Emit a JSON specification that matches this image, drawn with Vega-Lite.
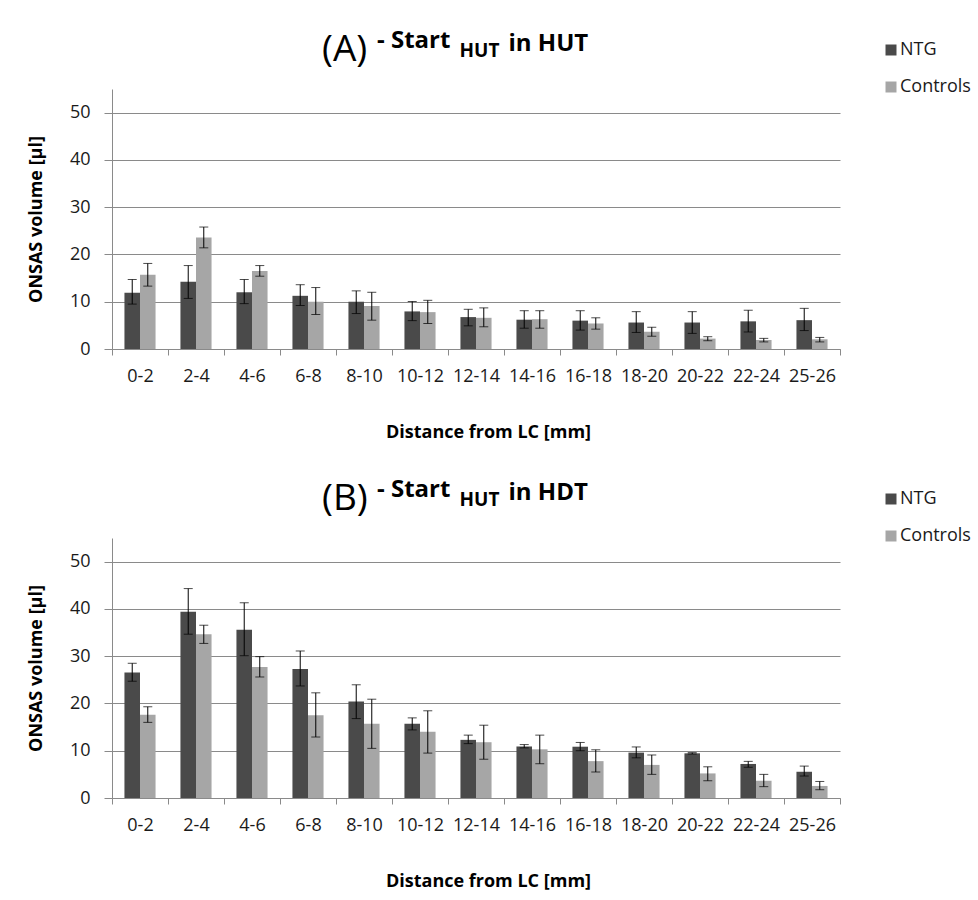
{
  "$schema": "https://vega.github.io/schema/vega-lite/v6.json",
  "background": "#ffffff",
  "padding": {"left": 27, "top": 29, "right": 5, "bottom": 5},
  "config": {
    "view": {"stroke": null},
    "font": "Open Sans",
    "axis": {"labelFont": "Open Sans", "titleFont": "Open Sans"},
    "legend": {"labelFont": "Open Sans", "titleFont": "Open Sans"}
  },
  "datasets": {
    "d": [
      {"p": "A", "cat": "0-2", "g": "NTG", "v": 11.9, "lo": 9.5, "hi": 14.7},
      {"p": "A", "cat": "0-2", "g": "Controls", "v": 15.7, "lo": 13.3, "hi": 18.1},
      {"p": "A", "cat": "2-4", "g": "NTG", "v": 14.2, "lo": 10.7, "hi": 17.65},
      {"p": "A", "cat": "2-4", "g": "Controls", "v": 23.6, "lo": 21.4, "hi": 25.8},
      {"p": "A", "cat": "4-6", "g": "NTG", "v": 12.0, "lo": 9.6, "hi": 14.7},
      {"p": "A", "cat": "4-6", "g": "Controls", "v": 16.5, "lo": 15.4, "hi": 17.65},
      {"p": "A", "cat": "6-8", "g": "NTG", "v": 11.25, "lo": 9.2, "hi": 13.6},
      {"p": "A", "cat": "6-8", "g": "Controls", "v": 10.0, "lo": 7.3, "hi": 13.0},
      {"p": "A", "cat": "8-10", "g": "NTG", "v": 10.0, "lo": 7.5, "hi": 12.3},
      {"p": "A", "cat": "8-10", "g": "Controls", "v": 9.1, "lo": 6.1, "hi": 12.0},
      {"p": "A", "cat": "10-12", "g": "NTG", "v": 7.95, "lo": 6.0, "hi": 10.05},
      {"p": "A", "cat": "10-12", "g": "Controls", "v": 7.8, "lo": 5.4, "hi": 10.3},
      {"p": "A", "cat": "12-14", "g": "NTG", "v": 6.75, "lo": 4.9, "hi": 8.4},
      {"p": "A", "cat": "12-14", "g": "Controls", "v": 6.6, "lo": 4.7, "hi": 8.7},
      {"p": "A", "cat": "14-16", "g": "NTG", "v": 6.2, "lo": 4.4, "hi": 8.1},
      {"p": "A", "cat": "14-16", "g": "Controls", "v": 6.3, "lo": 4.4, "hi": 8.1},
      {"p": "A", "cat": "16-18", "g": "NTG", "v": 6.0, "lo": 4.0, "hi": 8.1},
      {"p": "A", "cat": "16-18", "g": "Controls", "v": 5.4, "lo": 4.2, "hi": 6.6},
      {"p": "A", "cat": "18-20", "g": "NTG", "v": 5.6, "lo": 3.5, "hi": 7.9},
      {"p": "A", "cat": "18-20", "g": "Controls", "v": 3.65, "lo": 2.7, "hi": 4.6},
      {"p": "A", "cat": "20-22", "g": "NTG", "v": 5.6, "lo": 3.3, "hi": 7.9},
      {"p": "A", "cat": "20-22", "g": "Controls", "v": 2.2, "lo": 1.75, "hi": 2.6},
      {"p": "A", "cat": "22-24", "g": "NTG", "v": 5.85, "lo": 3.6, "hi": 8.2},
      {"p": "A", "cat": "22-24", "g": "Controls", "v": 1.9, "lo": 1.5, "hi": 2.25},
      {"p": "A", "cat": "25-26", "g": "NTG", "v": 6.1, "lo": 3.9, "hi": 8.6},
      {"p": "A", "cat": "25-26", "g": "Controls", "v": 2.05, "lo": 1.5, "hi": 2.45},
      {"p": "B", "cat": "0-2", "g": "NTG", "v": 26.55, "lo": 24.7, "hi": 28.5},
      {"p": "B", "cat": "0-2", "g": "Controls", "v": 17.6, "lo": 16.0, "hi": 19.3},
      {"p": "B", "cat": "2-4", "g": "NTG", "v": 39.4, "lo": 34.65, "hi": 44.3},
      {"p": "B", "cat": "2-4", "g": "Controls", "v": 34.65, "lo": 32.7, "hi": 36.55},
      {"p": "B", "cat": "4-6", "g": "NTG", "v": 35.6, "lo": 30.1, "hi": 41.3},
      {"p": "B", "cat": "4-6", "g": "Controls", "v": 27.7, "lo": 25.6, "hi": 29.9},
      {"p": "B", "cat": "6-8", "g": "NTG", "v": 27.3, "lo": 23.7, "hi": 31.1},
      {"p": "B", "cat": "6-8", "g": "Controls", "v": 17.5, "lo": 12.9, "hi": 22.25},
      {"p": "B", "cat": "8-10", "g": "NTG", "v": 20.4, "lo": 16.8, "hi": 23.95},
      {"p": "B", "cat": "8-10", "g": "Controls", "v": 15.7, "lo": 10.5, "hi": 20.9},
      {"p": "B", "cat": "10-12", "g": "NTG", "v": 15.7, "lo": 14.4, "hi": 16.95},
      {"p": "B", "cat": "10-12", "g": "Controls", "v": 14.0, "lo": 9.5, "hi": 18.45},
      {"p": "B", "cat": "12-14", "g": "NTG", "v": 12.3, "lo": 11.5, "hi": 13.3},
      {"p": "B", "cat": "12-14", "g": "Controls", "v": 11.8, "lo": 8.2, "hi": 15.4},
      {"p": "B", "cat": "14-16", "g": "NTG", "v": 10.9, "lo": 10.6, "hi": 11.3},
      {"p": "B", "cat": "14-16", "g": "Controls", "v": 10.3, "lo": 7.25, "hi": 13.3},
      {"p": "B", "cat": "16-18", "g": "NTG", "v": 10.85, "lo": 10.0, "hi": 11.75},
      {"p": "B", "cat": "16-18", "g": "Controls", "v": 7.8, "lo": 5.5, "hi": 10.2},
      {"p": "B", "cat": "18-20", "g": "NTG", "v": 9.6, "lo": 8.5, "hi": 10.8},
      {"p": "B", "cat": "18-20", "g": "Controls", "v": 7.0, "lo": 5.0, "hi": 9.1},
      {"p": "B", "cat": "20-22", "g": "NTG", "v": 9.45, "lo": 9.3, "hi": 9.6},
      {"p": "B", "cat": "20-22", "g": "Controls", "v": 5.2, "lo": 3.65, "hi": 6.6},
      {"p": "B", "cat": "22-24", "g": "NTG", "v": 7.2, "lo": 6.5, "hi": 7.75},
      {"p": "B", "cat": "22-24", "g": "Controls", "v": 3.65, "lo": 2.4, "hi": 5.0},
      {"p": "B", "cat": "25-26", "g": "NTG", "v": 5.55, "lo": 4.65, "hi": 6.75},
      {"p": "B", "cat": "25-26", "g": "Controls", "v": 2.55, "lo": 1.75, "hi": 3.5}
    ]
  },
  "spacing": 37,
  "resolve": {"scale": {"color": "independent"}, "legend": {"color": "independent"}},
  "vconcat": [
    {
      "data": {"name": "d"},
      "transform": [{"filter": "datum.p === 'A'"}],
      "width": 728,
      "height": 260,
      "title": {
        "text": "- Start",
        "anchor": "start", "frame": "group", "dx": 265,
        "font": "Open Sans", "fontSize": 24, "fontWeight": "bold", "color": "#000000",
        "offset": -22
      },
      "layer": [
        {
          "mark": {"type": "bar"},
          "encoding": {
            "x": {"field": "cat", "type": "nominal", "sort": null,
              "scale": {"paddingInner": 0, "paddingOuter": 0},
              "axis": {"orient": "bottom", "tickBand": "extent", "tickSize": 6, "tickColor": "#8a8a8a", "domainColor": "#8a8a8a",
                "labelFontSize": 18, "labelPadding": 12, "labelAngle": 0, "labelColor": "#1a1a1a", "grid": false,
                "title": "Distance from LC [mm]", "titleFontSize": 18, "titleFontWeight": "bold", "titleColor": "#000000", "titlePadding": 38, "titleX": 376}},
            "xOffset": {"field": "g", "type": "nominal", "sort": ["NTG", "Controls"], "scale": {"paddingInner": 0, "paddingOuter": 0.8}},
            "y": {"field": "v", "type": "quantitative",
              "scale": {"domain": [0, 55], "nice": false},
              "axis": {"values": [0, 10, 20, 30, 40, 50], "grid": true, "gridColor": "#8a8a8a", "domainColor": "#8a8a8a", "tickColor": "#8a8a8a",
                "tickSize": 8, "labelFontSize": 18, "labelPadding": 14, "labelColor": "#1a1a1a",
                "title": "ONSAS volume [µl]", "titleFontSize": 18, "titleFontWeight": "bold", "titleColor": "#000000", "titlePadding": 24}},
            "color": {"field": "g", "type": "nominal",
              "scale": {"domain": ["NTG", "Controls"], "range": ["#4a4a4a", "#a6a6a6"]},
              "legend": {"title": "(A)", "titleOrient": "left", "titleAnchor": "start", "titleBaseline": "line-top", "titleLineHeight": 18,
                "titleFontSize": 37, "titleFontWeight": "normal", "titleColor": "#000000", "titlePadding": 514, "titleLimit": 200,
                "orient": "none", "legendX": 210, "legendY": -48, "padding": 0,
                "symbolType": "square", "symbolSize": 121, "symbolStrokeWidth": 0, "labelFontSize": 18, "labelColor": "#1a1a1a",
                "labelOffset": 0, "rowPadding": 19}}
          }
        },
        {
          "encoding": {
            "x": {"field": "cat", "type": "nominal", "sort": null,
              "scale": {"paddingInner": 0, "paddingOuter": 0},
              "axis": {"orient": "top", "domain": false, "ticks": false, "labels": false, "grid": false,
                "title": "HUT", "titleFontSize": 19, "titleFontWeight": "bold", "titleColor": "#000000",
                "titleAlign": "left", "titleBaseline": "alphabetic", "titleX": 347, "titleY": -33}},
            "xOffset": {"field": "g", "type": "nominal", "sort": ["NTG", "Controls"]}
          },
          "layer": [
            {
              "mark": {"type": "rule", "color": "#000000", "strokeWidth": 1},
              "encoding": {
                "y": {"field": "lo", "type": "quantitative", "scale": {"domain": [0, 55], "nice": false},
                  "axis": {"orient": "right", "domain": false, "ticks": false, "labels": false, "grid": false,
                    "title": "in HUT", "titleAngle": 0, "titleFontSize": 24, "titleFontWeight": "bold", "titleColor": "#000000",
                    "titleAlign": "left", "titleBaseline": "alphabetic", "titleX": -332, "titleY": -39}},
                "y2": {"field": "hi"}
              }
            },
            {
              "mark": {"type": "tick", "color": "#000000", "thickness": 1, "size": 9},
              "encoding": {
                "y": {"field": "lo", "type": "quantitative", "scale": {"domain": [0, 55], "nice": false},
                  "axis": {"orient": "right", "domain": false, "ticks": false, "labels": false, "grid": false,
                    "title": "in HUT", "titleAngle": 0, "titleFontSize": 24, "titleFontWeight": "bold", "titleColor": "#000000",
                    "titleAlign": "left", "titleBaseline": "alphabetic", "titleX": -332, "titleY": -39}}
              }
            },
            {
              "mark": {"type": "tick", "color": "#000000", "thickness": 1, "size": 9},
              "encoding": {
                "y": {"field": "hi", "type": "quantitative", "scale": {"domain": [0, 55], "nice": false},
                  "axis": {"orient": "right", "domain": false, "ticks": false, "labels": false, "grid": false,
                    "title": "in HUT", "titleAngle": 0, "titleFontSize": 24, "titleFontWeight": "bold", "titleColor": "#000000",
                    "titleAlign": "left", "titleBaseline": "alphabetic", "titleX": -332, "titleY": -39}}
              }
            }
          ]
        }
      ],
      "resolve": {"scale": {"x": "independent", "y": "independent"}, "axis": {"x": "independent", "y": "independent"}}
    },
    {
      "data": {"name": "d"},
      "transform": [{"filter": "datum.p === 'B'"}],
      "width": 728,
      "height": 260,
      "title": {
        "text": "- Start",
        "anchor": "start", "frame": "group", "dx": 265,
        "font": "Open Sans", "fontSize": 24, "fontWeight": "bold", "color": "#000000",
        "offset": -22
      },
      "layer": [
        {
          "mark": {"type": "bar"},
          "encoding": {
            "x": {"field": "cat", "type": "nominal", "sort": null,
              "scale": {"paddingInner": 0, "paddingOuter": 0},
              "axis": {"orient": "bottom", "tickBand": "extent", "tickSize": 6, "tickColor": "#8a8a8a", "domainColor": "#8a8a8a",
                "labelFontSize": 18, "labelPadding": 12, "labelAngle": 0, "labelColor": "#1a1a1a", "grid": false,
                "title": "Distance from LC [mm]", "titleFontSize": 18, "titleFontWeight": "bold", "titleColor": "#000000", "titlePadding": 38, "titleX": 376}},
            "xOffset": {"field": "g", "type": "nominal", "sort": ["NTG", "Controls"], "scale": {"paddingInner": 0, "paddingOuter": 0.8}},
            "y": {"field": "v", "type": "quantitative",
              "scale": {"domain": [0, 55], "nice": false},
              "axis": {"values": [0, 10, 20, 30, 40, 50], "grid": true, "gridColor": "#8a8a8a", "domainColor": "#8a8a8a", "tickColor": "#8a8a8a",
                "tickSize": 8, "labelFontSize": 18, "labelPadding": 14, "labelColor": "#1a1a1a",
                "title": "ONSAS volume [µl]", "titleFontSize": 18, "titleFontWeight": "bold", "titleColor": "#000000", "titlePadding": 24}},
            "color": {"field": "g", "type": "nominal",
              "scale": {"domain": ["NTG", "Controls"], "range": ["#4a4a4a", "#a6a6a6"]},
              "legend": {"title": "(B)", "titleOrient": "left", "titleAnchor": "start", "titleBaseline": "line-top", "titleLineHeight": 18,
                "titleFontSize": 37, "titleFontWeight": "normal", "titleColor": "#000000", "titlePadding": 514, "titleLimit": 200,
                "orient": "none", "legendX": 210, "legendY": -48, "padding": 0,
                "symbolType": "square", "symbolSize": 121, "symbolStrokeWidth": 0, "labelFontSize": 18, "labelColor": "#1a1a1a",
                "labelOffset": 0, "rowPadding": 19}}
          }
        },
        {
          "encoding": {
            "x": {"field": "cat", "type": "nominal", "sort": null,
              "scale": {"paddingInner": 0, "paddingOuter": 0},
              "axis": {"orient": "top", "domain": false, "ticks": false, "labels": false, "grid": false,
                "title": "HUT", "titleFontSize": 19, "titleFontWeight": "bold", "titleColor": "#000000",
                "titleAlign": "left", "titleBaseline": "alphabetic", "titleX": 347, "titleY": -33}},
            "xOffset": {"field": "g", "type": "nominal", "sort": ["NTG", "Controls"]}
          },
          "layer": [
            {
              "mark": {"type": "rule", "color": "#000000", "strokeWidth": 1},
              "encoding": {
                "y": {"field": "lo", "type": "quantitative", "scale": {"domain": [0, 55], "nice": false},
                  "axis": {"orient": "right", "domain": false, "ticks": false, "labels": false, "grid": false,
                    "title": "in HDT", "titleAngle": 0, "titleFontSize": 24, "titleFontWeight": "bold", "titleColor": "#000000",
                    "titleAlign": "left", "titleBaseline": "alphabetic", "titleX": -332, "titleY": -39}},
                "y2": {"field": "hi"}
              }
            },
            {
              "mark": {"type": "tick", "color": "#000000", "thickness": 1, "size": 9},
              "encoding": {
                "y": {"field": "lo", "type": "quantitative", "scale": {"domain": [0, 55], "nice": false},
                  "axis": {"orient": "right", "domain": false, "ticks": false, "labels": false, "grid": false,
                    "title": "in HDT", "titleAngle": 0, "titleFontSize": 24, "titleFontWeight": "bold", "titleColor": "#000000",
                    "titleAlign": "left", "titleBaseline": "alphabetic", "titleX": -332, "titleY": -39}}
              }
            },
            {
              "mark": {"type": "tick", "color": "#000000", "thickness": 1, "size": 9},
              "encoding": {
                "y": {"field": "hi", "type": "quantitative", "scale": {"domain": [0, 55], "nice": false},
                  "axis": {"orient": "right", "domain": false, "ticks": false, "labels": false, "grid": false,
                    "title": "in HDT", "titleAngle": 0, "titleFontSize": 24, "titleFontWeight": "bold", "titleColor": "#000000",
                    "titleAlign": "left", "titleBaseline": "alphabetic", "titleX": -332, "titleY": -39}}
              }
            }
          ]
        }
      ],
      "resolve": {"scale": {"x": "independent", "y": "independent"}, "axis": {"x": "independent", "y": "independent"}}
    }
  ]
}
